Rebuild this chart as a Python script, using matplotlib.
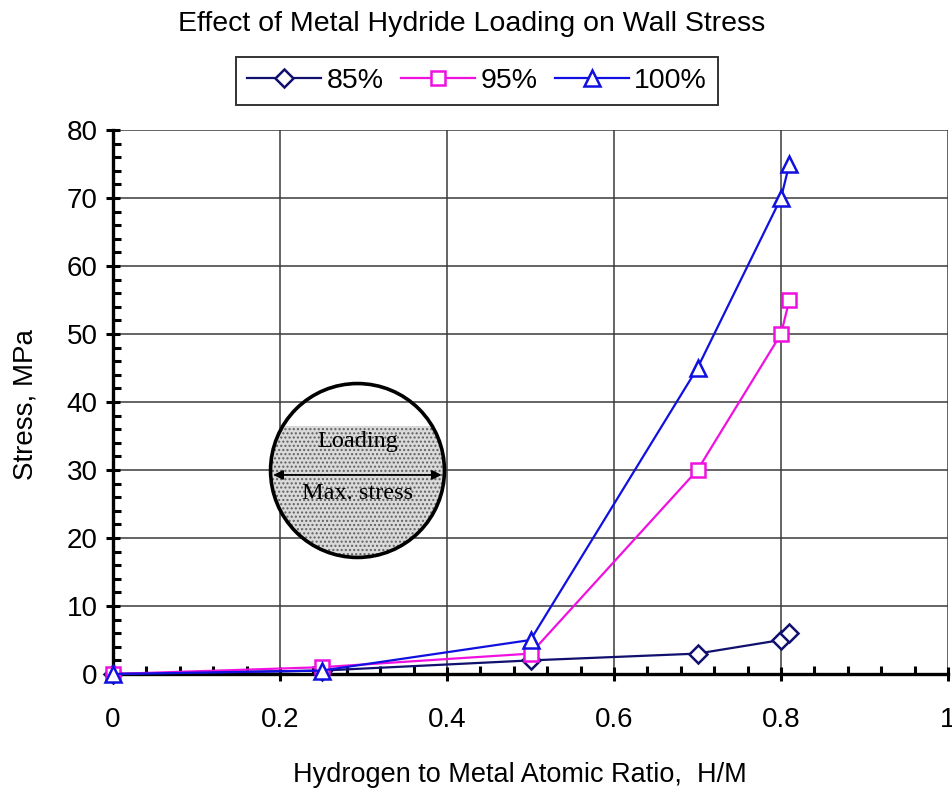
import numpy as np
import matplotlib
matplotlib.use("Agg")
from matplotlib import pyplot as plt
from matplotlib.patches import Circle, Rectangle
from matplotlib.ticker import MultipleLocator, FuncFormatter

# data
hm_ratio = [0.0, 0.25, 0.5, 0.7, 0.8, 0.81]
stress_85 = [0.0, 0.5, 2.0, 3.0, 5.0, 6.0]
stress_95 = [0.0, 1.0, 3.0, 30.0, 50.0, 55.0]
stress_100 = [0.0, 0.5, 5.0, 45.0, 70.0, 75.0]
series_labels = ["85%", "95%", "100%"]

plt.rcParams['font.family'] = ['Liberation Sans', 'DejaVu Sans']

fig = plt.figure(figsize=(9.52, 7.91), dpi=100)
ax = fig.add_axes([113 / 952, 1 - 674 / 791, 835 / 952, 544 / 791])

styles = [("#10106e", "D", 9), ("#f010e0", "s", 10), ("#1010e0", "^", 12)]
for ys, lab, (col, mk, ms) in zip([stress_85, stress_95, stress_100], series_labels, styles):
    ax.plot(hm_ratio, ys, color=col, lw=1.6, marker=mk, markersize=ms,
            markerfacecolor="white", markeredgecolor=col, markeredgewidth=1.8,
            label=lab, clip_on=False, zorder=3)

ax.set_xlim(0, 1)
ax.set_ylim(0, 80)
ax.xaxis.set_major_locator(MultipleLocator(0.2))
ax.xaxis.set_minor_locator(MultipleLocator(0.04))
ax.yaxis.set_major_locator(MultipleLocator(10))
ax.yaxis.set_minor_locator(MultipleLocator(2))
ax.xaxis.set_major_formatter(FuncFormatter(lambda v, p: "%g" % round(v, 2)))

ax.grid(True, which="major", color="#3a3a3a", lw=1.1)
for s in ["top", "right"]:
    ax.spines[s].set_visible(False)
for s in ["left", "bottom"]:
    ax.spines[s].set_linewidth(2.4)
ax.tick_params(which="major", direction="inout", length=10, width=2.2, labelsize=20, pad=6)
ax.tick_params(which="minor", direction="in", length=6, width=2.2)
ax.tick_params(axis="x", which="major", pad=19)

ax.set_xlabel("Hydrogen to Metal Atomic Ratio,  H/M", fontsize=19.5, va="center")
ax.xaxis.set_label_coords((520 - 113) / 835, (674 - 775) / 544)
ax.set_ylabel("Stress, MPa", fontsize=20, va="center")
ax.yaxis.set_label_coords((26 - 113) / 835, (674 - 405) / 544)

fig.text(0.495, 1 - 24 / 791, "Effect of Metal Hydride Loading on Wall Stress",
         ha="center", va="center", fontsize=20.5)

leg = fig.legend(loc="center", bbox_to_anchor=(477 / 952, 1 - 81 / 791), ncol=3,
                 fontsize=20.5, frameon=True, fancybox=False, handlelength=2.6,
                 handletextpad=0.2, columnspacing=0.6, borderpad=0.4)
leg.get_frame().set_edgecolor("black")
leg.get_frame().set_linewidth(1.4)

# circle sketch inset
ins = fig.add_axes([267 / 952, 1 - 561 / 791, 181 / 952, 181 / 791])
ins.set_xlim(-1.02, 1.02)
ins.set_ylim(-1.02, 1.02)
ins.set_aspect("equal")
ins.axis("off")
ins.patch.set_alpha(0)
fill = Circle((0, 0), 0.98, facecolor="#dadada", edgecolor="#606060", hatch="....", lw=0)
ins.add_patch(fill)
fill.set_clip_path(Rectangle((-1.1, -1.1), 2.2, 1.6, transform=ins.transData))
ins.add_patch(Circle((0, 0), 0.98, facecolor="none", edgecolor="black", lw=2.6))
ins.annotate("", xy=(-0.98, -0.05), xytext=(0.98, -0.05),
             arrowprops=dict(arrowstyle="<|-|>", color="black", lw=1.3, mutation_scale=14))
ins.text(0, 0.33, "Loading", ha="center", va="center", fontsize=17.5, family="Liberation Serif")
ins.text(0, -0.26, "Max. stress", ha="center", va="center", fontsize=17.5, family="Liberation Serif")

fig.savefig("out.png", dpi=100)
